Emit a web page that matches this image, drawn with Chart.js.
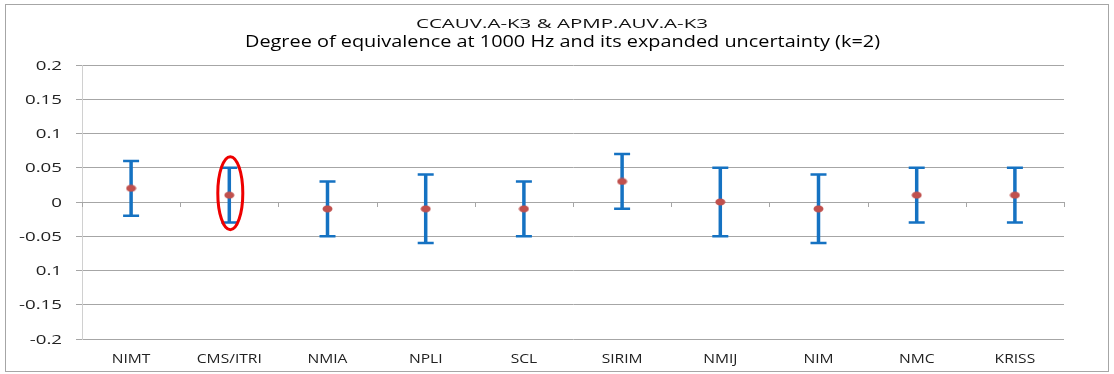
<!DOCTYPE html>
<html>
<head>
<meta charset="utf-8">
<script src="https://cdn.jsdelivr.net/npm/chart.js@4/dist/chart.umd.min.js"></script>
<style>
html,body{margin:0;padding:0;background:#fff;}
#wrap{width:1114px;height:374px;position:relative;}
</style>
</head>
<body>
<div id="wrap"><canvas id="c" width="1114" height="374"></canvas></div>
<script>
const categories = ['NIMT','CMS/ITRI','NMIA','NPLI','SCL','SIRIM','NMIJ','NIM','NMC','KRISS'];
const degreeOfEquivalence = [0.02, 0.01, -0.01, -0.01, -0.01, 0.03, 0.00, -0.01, 0.01, 0.01];
const lowerBound = [-0.02, -0.03, -0.05, -0.06, -0.05, -0.01, -0.05, -0.06, -0.03, -0.03];
const upperBound = [0.06, 0.05, 0.03, 0.04, 0.03, 0.07, 0.05, 0.04, 0.05, 0.05];
const yTickValues = [0.2, 0.15, 0.1, 0.05, 0, -0.05, -0.1, -0.15, -0.2];
const yTickLabels = ['0.2', '0.15', '0.1', '0.05', '0', '-0.05', '0.1', '-0.15', '-0.2'];
const titleLines = ['CCAUV.A-K3 & APMP.AUV.A-K3', 'Degree of equivalence at 1000 Hz and its expanded uncertainty (k=2)'];
const highlightedIndex = 1;

const FONT = "'Open Sans', 'DejaVu Sans', sans-serif";

// stretched text helper (reference text is horizontally wide)
function stretchedText(ctx, text, x, y, size, sx, align, color, weight) {
  ctx.save();
  ctx.font = (weight || 'normal') + ' ' + size + 'px ' + FONT;
  ctx.fillStyle = color;
  ctx.textBaseline = 'alphabetic';
  const w = ctx.measureText(text).width * sx;
  let left = x;
  if (align === 'center') left = x - w / 2;
  else if (align === 'right') left = x - w;
  ctx.translate(left, y);
  ctx.scale(sx, 1);
  ctx.textAlign = 'left';
  ctx.fillText(text, 0, 0);
  ctx.restore();
}
function fitScale(ctx, text, size, target) {
  ctx.save();
  ctx.font = size + 'px ' + FONT;
  const w = ctx.measureText(text).width;
  ctx.restore();
  return target / w;
}

// elliptical marker like the reference
const marker = document.createElement('canvas');
marker.width = 11; marker.height = 8;
(function () {
  const m = marker.getContext('2d');
  m.fillStyle = '#c0504d';
  m.beginPath();
  m.ellipse(5.5, 4, 5, 3.5, 0, 0, Math.PI * 2);
  m.fill();
})();

const decor = {
  id: 'decor',
  beforeDraw(chart) {
    const ctx = chart.ctx;
    ctx.save();
    ctx.fillStyle = '#fff';
    ctx.fillRect(0, 0, chart.width, chart.height);
    ctx.strokeStyle = '#a6a6a6';
    ctx.lineWidth = 1;
    ctx.strokeRect(5.5, 4.5, 1103, 367);
    ctx.restore();
    // titles
    stretchedText(ctx, titleLines[0], 562, 28, 13.5, fitScale(ctx, titleLines[0], 13.5, 292), 'center', '#111');
    stretchedText(ctx, titleLines[1], 562.5, 47, 15.5, fitScale(ctx, titleLines[1], 15.5, 635), 'center', '#000');
  },
  beforeDatasetsDraw(chart) {
    const ctx = chart.ctx;
    const x = chart.scales.x, y = chart.scales.y;
    ctx.save();
    // category tick marks on zero line
    const y0 = y.getPixelForValue(0);
    ctx.strokeStyle = '#a6a6a6';
    ctx.lineWidth = 1;
    for (let i = 0; i <= categories.length; i++) {
      let px;
      if (i === 0) px = chart.chartArea.left;
      else if (i === categories.length) px = chart.chartArea.right;
      else px = (x.getPixelForValue(i - 1) + x.getPixelForValue(i)) / 2;
      px = Math.round(px) + 0.5;
      ctx.beginPath();
      ctx.moveTo(px, y0);
      ctx.lineTo(px, y0 + 5);
      ctx.stroke();
    }
    // error bars
    ctx.strokeStyle = '#1572c2';
    for (let i = 0; i < categories.length; i++) {
      const px = x.getPixelForValue(i);
      const yl = y.getPixelForValue(lowerBound[i]);
      const yu = y.getPixelForValue(upperBound[i]);
      ctx.lineWidth = 3.5;
      ctx.beginPath();
      ctx.moveTo(px, yl);
      ctx.lineTo(px, yu);
      ctx.stroke();
      ctx.lineWidth = 2.5;
      ctx.beginPath();
      ctx.moveTo(px - 8, yl); ctx.lineTo(px + 8, yl);
      ctx.moveTo(px - 8, yu); ctx.lineTo(px + 8, yu);
      ctx.stroke();
    }
    ctx.restore();
  },
  afterDatasetsDraw(chart) {
    const ctx = chart.ctx;
    const x = chart.scales.x, y = chart.scales.y;
    // highlight ellipse
    const cx = x.getPixelForValue(highlightedIndex) + 1;
    const cy = (y.getPixelForValue(lowerBound[highlightedIndex]) + y.getPixelForValue(upperBound[highlightedIndex])) / 2 - 2;
    ctx.save();
    ctx.strokeStyle = '#ee0000';
    ctx.lineWidth = 3;
    ctx.beginPath();
    ctx.ellipse(cx, cy, 12.5, 36.5, 0, 0, Math.PI * 2);
    ctx.stroke();
    ctx.restore();
    // y tick labels
    const syY = fitScale(ctx, '0.15', 12.5, 37);
    yTickValues.forEach((v, i) => {
      stretchedText(ctx, yTickLabels[i], 62, y.getPixelForValue(v) + 4.5, 12.5, syY, 'right', '#222');
    });
    // x category labels
    const sxX = fitScale(ctx, 'CMS/ITRI', 12.5, 65);
    categories.forEach((c, i) => {
      stretchedText(ctx, c, x.getPixelForValue(i), 363, 12.5, sxX, 'center', '#222');
    });
  }
};

new Chart(document.getElementById('c'), {
  type: 'line',
  data: {
    labels: categories,
    datasets: [{
      data: degreeOfEquivalence,
      showLine: false,
      pointStyle: marker,
      pointRadius: 5,
      pointHoverRadius: 5,
      pointBackgroundColor: '#c0504d',
      pointBorderColor: '#c0504d'
    }]
  },
  options: {
    responsive: false,
    animation: false,
    events: [],
    layout: { padding: { left: 0, right: 50, top: 65, bottom: 0 } },
    plugins: { legend: { display: false }, tooltip: { enabled: false }, title: { display: false } },
    scales: {
      x: {
        offset: true,
        grid: { display: false, drawTicks: false },
        border: { display: false },
        ticks: { color: 'rgba(0,0,0,0)', font: { family: FONT, size: 12 }, padding: 13, maxRotation: 0, autoSkip: false },
        afterFit(s) { s.height = 35; }
      },
      y: {
        min: -0.2, max: 0.2,
        afterBuildTicks(s) { s.ticks = yTickValues.map(v => ({ value: v })); },
        grid: { color: '#a6a6a6', lineWidth: 1, drawTicks: true, tickLength: 6, tickColor: '#a6a6a6' },
        border: { display: true, color: '#d0d0d0' },
        ticks: {
          color: 'rgba(0,0,0,0)', font: { family: FONT, size: 13 }, padding: 12,
          callback(v) {
            const idx = yTickValues.findIndex(t => Math.abs(t - v) < 1e-9);
            return idx >= 0 ? yTickLabels[idx] : '';
          }
        },
        afterFit(s) { s.width = 82; }
      }
    }
  },
  plugins: [decor]
});
</script>
</body>
</html>
